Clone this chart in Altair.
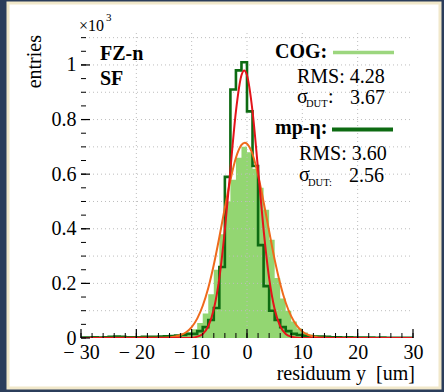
import altair as alt
import pandas as pd
import numpy as np

# ---------------- data (values in units of 10^3 entries) ----------------
bin_lo = list(range(-30, 30))          # 1 um bins from -30 to 30
cog = [0.002,0.002,0.002,0.003,0.002,0.003,0.003,0.003,0.003,0.003,0.004,0.004,0.004,0.005,0.005,
       0.005,0.006,0.008,0.012,0.020,0.032,0.055,0.090,0.160,0.250,0.380,0.500,0.580,0.660,0.700,
       0.680,0.620,0.550,0.470,0.360,0.220,0.145,0.100,0.060,0.035,0.020,0.013,0.009,0.007,0.006,
       0.005,0.004,0.004,0.004,0.003,0.003,0.003,0.003,0.002,0.002,0.002,0.002,0.002,0.002,0.002]
mpeta = [0.002,0.002,0.003,0.002,0.003,0.004,0.005,0.004,0.003,0.003,0.003,0.004,0.004,0.004,0.005,
         0.006,0.007,0.009,0.011,0.015,0.015,0.025,0.040,0.066,0.110,0.260,0.590,0.910,0.980,1.010,
         0.830,0.630,0.340,0.190,0.100,0.066,0.040,0.025,0.015,0.011,0.008,0.006,0.005,0.005,0.004,
         0.003,0.003,0.002,0.003,0.002,0.002,0.002,0.002,0.001,0.002,0.001,0.001,0.001,0.001,0.001]

red_x = [-30,-14,-12,-10,-9,-8,-7,-6,-5,-4,-3,-2,-1,-0.5,0,1,2,3,4,5,6,7,8,9,10,12,30]
red_y = [0,0,0,0.001,0.005,0.015,0.043,0.105,0.219,0.396,0.617,0.830,0.962,0.980,0.962,0.830,
         0.617,0.396,0.219,0.105,0.043,0.015,0.005,0.001,0,0,0]
orange_x = [-30,-16,-14,-12,-11,-10,-9,-8,-7,-6,-5,-4,-3,-2,-1,-0.4,0,1,2,3,4,5,6,7,8,9,10,11,12,14,16,30]
orange_y = [0,0.0005,0.002,0.011,0.021,0.040,0.071,0.118,0.183,0.268,0.369,0.477,0.578,0.660,0.707,
            0.715,0.711,0.673,0.597,0.498,0.391,0.287,0.199,0.129,0.079,0.045,0.024,0.012,0.006,
            0.001,0.0003,0]

x_ticks = [-30, -20, -10, 0, 10, 20, 30]
x_grid = [-20, -10, 0, 10, 20]
x_minor = [v for v in range(-30, 31, 2)]
y_ticks = [0, 0.2, 0.4, 0.6, 0.8, 1.0]
y_grid = [0.1, 0.2, 0.3, 0.4, 0.5, 0.6, 0.7, 0.8, 0.9, 1.0, 1.1]
y_minor = [round(0.05 * i, 2) for i in range(0, 23)]

# ---------------- layout ----------------
W, H = 332, 305
L, T = 81, 33
NAVY = "#2b3d5b"
FONT = "Liberation Serif"
LIGHT = "#93d672"
DARK = "#0d6b12"
RED = "#e3141a"
ORANGE = "#ef6a1c"

xs = alt.Scale(domain=[-30, 30], nice=False, zero=False)
ys = alt.Scale(domain=[0, 1.117], nice=False, zero=False)

one = alt.Data(values=[{"a": 1}])

panel = alt.Chart(one).mark_rect(fill="#ffffff", stroke="#f1e8ca", strokeWidth=3).encode(
    x=alt.value(8 - L), x2=alt.value(440 - L), y=alt.value(3 - T), y2=alt.value(388 - T))

fill_df = pd.DataFrame({"x": bin_lo + [30], "v": cog + [cog[-1]]})
fill = alt.Chart(fill_df).mark_area(color=LIGHT, interpolate="step-after", clip=True, opacity=1).encode(
    x=alt.X("x:Q", scale=xs, axis=alt.Axis(values=x_ticks, title=None, grid=False, ticks=False,
            domain=False, labelFont=FONT, labelFontSize=20, labelColor="black", labelPadding=4,
            labelFlush=False, zindex=1,
            labelExpr="datum.value < 0 ? '\u2212 ' + abs(datum.value) : '' + datum.value")),
    y=alt.Y("v:Q", scale=ys, axis=alt.Axis(values=y_ticks, title=None, grid=False, ticks=False,
            domain=False, labelFont=FONT, labelFontSize=20, labelColor="black", labelPadding=5,
            zindex=1,
            labelExpr="datum.value == 0 ? '0' : datum.value == 1 ? '1' : format(datum.value, '.1f')")),
    y2=alt.datum(0),
)

gx = alt.Chart(pd.DataFrame({"g": x_grid})).mark_rule(color="#bdbdbd", strokeDash=[1, 3], strokeWidth=1).encode(
    x=alt.X("g:Q", scale=xs), y=alt.value(0), y2=alt.value(H))
gy = alt.Chart(pd.DataFrame({"g": y_grid})).mark_rule(color="#bdbdbd", strokeDash=[1, 3], strokeWidth=1).encode(
    y=alt.Y("g:Q", scale=ys), x=alt.value(0), x2=alt.value(W))

step_df = pd.DataFrame({"x": bin_lo + [30], "v": mpeta + [mpeta[-1]]})
step = alt.Chart(step_df).mark_line(color=DARK, strokeWidth=2.6, interpolate="step-after", clip=True).encode(
    x=alt.X("x:Q", scale=xs), y=alt.Y("v:Q", scale=ys))

orange = alt.Chart(pd.DataFrame({"x": orange_x, "v": orange_y})).mark_line(
    color=ORANGE, strokeWidth=2, interpolate="monotone", clip=True).encode(
    x=alt.X("x:Q", scale=xs), y=alt.Y("v:Q", scale=ys))
red = alt.Chart(pd.DataFrame({"x": red_x, "v": red_y})).mark_line(
    color=RED, strokeWidth=2, interpolate="monotone", clip=True).encode(
    x=alt.X("x:Q", scale=xs), y=alt.Y("v:Q", scale=ys))

# inward ticks
ty_major = alt.Chart(pd.DataFrame({"t": y_ticks})).mark_rule(color="black", strokeWidth=1.2).encode(
    y=alt.Y("t:Q", scale=ys), x=alt.value(0), x2=alt.value(9))
ty_minor = alt.Chart(pd.DataFrame({"t": y_minor})).mark_rule(color="black", strokeWidth=1).encode(
    y=alt.Y("t:Q", scale=ys), x=alt.value(0), x2=alt.value(5))
tx_major = alt.Chart(pd.DataFrame({"t": x_ticks})).mark_rule(color="black", strokeWidth=1.2).encode(
    x=alt.X("t:Q", scale=xs), y=alt.value(H), y2=alt.value(H - 9))
tx_minor = alt.Chart(pd.DataFrame({"t": x_minor})).mark_rule(color="black", strokeWidth=1).encode(
    x=alt.X("t:Q", scale=xs), y=alt.value(H), y2=alt.value(H - 5))


def txt(s, x, y, size=20, bold=False, align="left", angle=0, color="black"):
    kw = dict(text=s, font=FONT, fontSize=size, fontWeight="bold" if bold else "normal",
              align=align, baseline="alphabetic", color=color)
    if angle:
        kw["angle"] = angle
    return alt.Chart(one).mark_text(**kw).encode(x=alt.value(x - L), y=alt.value(y - T))


def seg(x1, x2, y, color, w):
    return alt.Chart(one).mark_rule(color=color, strokeWidth=w).encode(
        x=alt.value(x1 - L), x2=alt.value(x2 - L), y=alt.value(y - T))


texts = [
    txt("FZ-n", 100, 60, bold=True),
    txt("SF", 100, 85, bold=True),
    txt("COG:", 275, 58, bold=True),
    seg(333, 394, 52.5, "#9cd67e", 3.5),
    txt("RMS: 4.28", 297, 83),
    txt("\u03c3", 297, 103),
    txt("DUT", 306, 107, size=10.5),
    txt(":", 328, 103),
    txt("3.67", 350, 104),
    txt("mp-\u03b7:", 275, 134, bold=True),
    seg(332, 393, 129.5, DARK, 4),
    txt("RMS: 3.60", 299, 160),
    txt("\u03c3", 299, 181),
    txt("DUT:", 308, 186, size=10.5),
    txt("2.56", 349, 182),
    txt("\u00d710", 79, 31, size=16),
    txt("3", 106, 21, size=11),
    txt("residuum y\u00a0 [um]", 415, 380, align="right"),
    txt("entries", 41, 35, align="right", angle=270),
]

chart = alt.layer(panel, fill, gx, gy, step, orange, red, ty_major, ty_minor, tx_major, tx_minor, *texts).properties(
    width=W, height=H,
    padding={"left": L, "top": T, "right": 444 - L - W, "bottom": 392 - T - H},
    autosize=alt.AutoSizeParams(type="none"),
    background=NAVY,
).configure_view(stroke="black", strokeWidth=2.5, fill="white")

chart.save("out.html", embed_options={"renderer": "svg", "actions": False})
